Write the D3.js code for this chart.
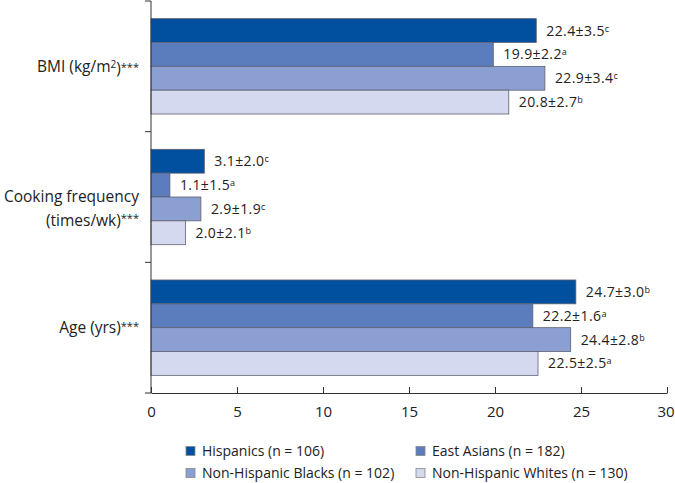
<!DOCTYPE html>
<html>
<head>
<meta charset="utf-8">
<script src="https://cdn.jsdelivr.net/npm/d3@7"></script>
<style>
  body { margin: 0; background: #fff; }
  svg text { font-family: "Open Sans", sans-serif; fill: #222; }
</style>
</head>
<body>
<script>
// data
var categories = ["BMI", "Cooking", "Age"];
var groups = ["Hispanics (n = 106)", "East Asians (n = 182)", "Non-Hispanic Blacks (n = 102)", "Non-Hispanic Whites (n = 130)"];
var means = [
    [22.4, 19.9, 22.9, 20.8],
    [3.1, 1.1, 2.9, 2.0],
    [24.7, 22.2, 24.4, 22.5]
];
var sds = [
    ["3.5", "2.2", "3.4", "2.7"],
    ["2.0", "1.5", "1.9", "2.1"],
    ["3.0", "1.6", "2.8", "2.5"]
];
var letters = [
    ["c", "a", "c", "b"],
    ["c", "a", "c", "b"],
    ["b", "a", "b", "a"]
];
var meanLabels = [
    ["22.4", "19.9", "22.9", "20.8"],
    ["3.1", "1.1", "2.9", "2.0"],
    ["24.7", "22.2", "24.4", "22.5"]
];
var xTicks = [0, 5, 10, 15, 20, 25, 30];

var colors = ["#00509f", "#5b7cbd", "#8c9fd3", "#d4d9ef"];

var margin = {top: 1, right: 8, bottom: 90, left: 151};
var width = 675 - margin.left - margin.right;
var height = 483 - margin.top - margin.bottom;

var svg = d3.select("body").append("svg")
    .attr("width", 675)
    .attr("height", 483)
    .append("g")
    .attr("transform", "translate(" + margin.left + "," + margin.top + ")");

var x = d3.scaleLinear().domain([0, 30]).range([0, 516]);

var y0 = d3.scaleBand().domain(categories).range([0, height]);
var y1 = d3.scaleBand().domain(d3.range(groups.length))
    .range([0, y0.bandwidth()])
    .paddingOuter(0.74);

// bars
var rows = [];
categories.forEach(function(c, i) {
    groups.forEach(function(g, j) {
        rows.push({cat: c, ci: i, gi: j, v: means[i][j]});
    });
});

svg.selectAll("rect.bar").data(rows).enter()
    .append("rect")
    .attr("class", "bar")
    .attr("x", x(0))
    .attr("y", function(d) { return y0(d.cat) + y1(d.gi); })
    .attr("width", function(d) { return x(d.v) - x(0); })
    .attr("height", y1.bandwidth())
    .style("fill", function(d) { return colors[d.gi]; })
    .style("stroke", "#5d6170")
    .style("stroke-width", 0.8);

// value labels
var lab = svg.selectAll("text.val").data(rows).enter()
    .append("text")
    .attr("class", "val")
    .attr("x", function(d) { return x(d.v) + 10; })
    .attr("y", function(d) { return y0(d.cat) + y1(d.gi) + y1.bandwidth() / 2; })
    .attr("dy", "0.36em")
    .style("font-size", "14px")
    .style("letter-spacing", "0.4px");
lab.append("tspan").text(function(d) { return meanLabels[d.ci][d.gi] + "\u00b1" + sds[d.ci][d.gi]; });
lab.append("tspan")
    .attr("dy", "-0.45em")
    .style("font-size", "9px")
    .style("letter-spacing", "0px")
    .text(function(d) { return letters[d.ci][d.gi]; });

// y axis
svg.append("line")
    .attr("x1", 0).attr("x2", 0)
    .attr("y1", 0).attr("y2", height)
    .style("stroke", "#333");
svg.selectAll("line.ytick").data(d3.range(categories.length + 1)).enter()
    .append("line")
    .attr("class", "ytick")
    .attr("x1", -6).attr("x2", 0)
    .attr("y1", function(d) { return d * y0.step(); })
    .attr("y2", function(d) { return d * y0.step(); })
    .style("stroke", "#333");

// category labels
var catText = svg.append("g").attr("class", "cats");
var bmi = catText.append("text")
    .attr("x", -12)
    .attr("y", y0("BMI") + y0.bandwidth() / 2)
    .attr("dy", "0.35em")
    .attr("text-anchor", "end")
    .style("font-size", "15.5px");
bmi.append("tspan").text("BMI (kg/m");
bmi.append("tspan").attr("dy", "-0.4em").style("font-size", "10px").text("2");
bmi.append("tspan").attr("dy", "0.4em").text(")");
bmi.append("tspan").attr("dy", "-0.3em").style("font-size", "11px").text("***");

var cook = catText.append("text")
    .attr("x", -12)
    .attr("y", y0("Cooking") + y0.bandwidth() / 2)
    .attr("text-anchor", "end")
    .style("font-size", "15.5px");
cook.append("tspan").attr("x", -12).attr("dy", "0.35em").text("Cooking frequency");
cook.append("tspan").attr("x", -12).attr("dy", "1.5em").text("(times/wk)");
cook.append("tspan").attr("dy", "-0.3em").style("font-size", "11px").text("***");

var age = catText.append("text")
    .attr("x", -12)
    .attr("y", y0("Age") + y0.bandwidth() / 2)
    .attr("dy", "0.35em")
    .attr("text-anchor", "end")
    .style("font-size", "15.5px");
age.append("tspan").text("Age (yrs)");
age.append("tspan").attr("dy", "-0.3em").style("font-size", "11px").text("***");

// x axis
var xAxis = svg.append("g")
    .attr("transform", "translate(0," + height + ")")
    .call(d3.axisBottom(x).tickValues(xTicks).tickSizeInner(-6).tickSizeOuter(0).tickPadding(13));
xAxis.select(".domain").style("stroke", "#333");
xAxis.selectAll(".tick line").style("stroke", "#333");
xAxis.selectAll(".tick text")
    .style("font-family", "'Open Sans', sans-serif")
    .style("font-size", "15px")
    .style("fill", "#222")
    .attr("dx", function(d) { return d === 30 ? "-1.5px" : 0; });

// legend
var legendPos = [[35, 58], [265, 58], [35, 80], [265, 80]];
var legend = svg.append("g").attr("class", "legend")
    .attr("transform", "translate(0," + height + ")");
var items = legend.selectAll("g").data(groups).enter()
    .append("g")
    .attr("transform", function(d, i) { return "translate(" + legendPos[i][0] + "," + legendPos[i][1] + ")"; });
items.append("rect")
    .attr("x", 0).attr("y", -4.5)
    .attr("width", 9).attr("height", 9)
    .style("fill", function(d, i) { return colors[i]; })
    .style("stroke", "#888")
    .style("stroke-width", 0.8);
items.append("text")
    .attr("x", 16)
    .attr("dy", "0.35em")
    .style("font-size", "14px")
    .text(function(d) { return d; });
</script>
</body>
</html>
